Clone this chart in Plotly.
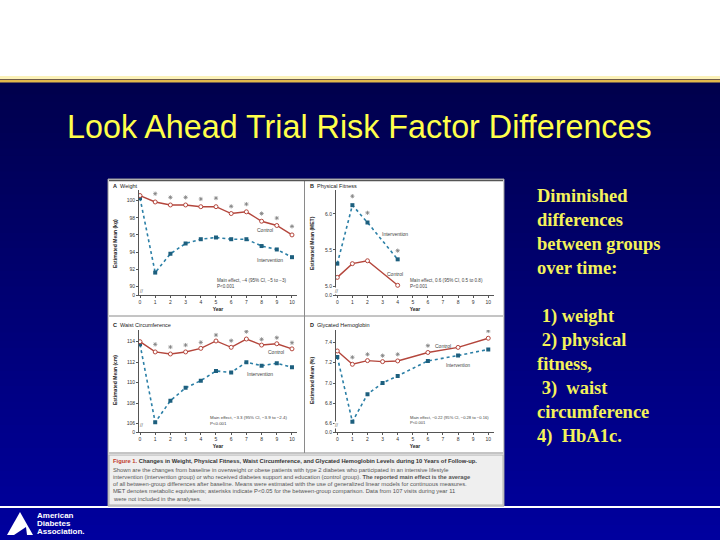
import plotly.graph_objects as go

# ---------------- data ----------------
years_11 = [0, 1, 2, 3, 4, 5, 6, 7, 8, 9, 10]
years_ast = [1, 2, 3, 4, 5, 6, 7, 8, 9, 10]

weight_control = [100.6, 99.85, 99.5, 99.5, 99.3, 99.3, 98.5, 98.7, 97.6, 97.1, 96.0]
weight_interv = [100.3, 91.6, 93.8, 95.0, 95.5, 95.7, 95.5, 95.5, 94.7, 94.3, 93.4]
weight_ast = [100.82, 100.39, 100.39, 100.2, 100.3, 99.34, 99.6, 98.5, 97.97, 97.0]

fit_years = [0, 1, 2, 4]
fit_control = [5.12, 5.31, 5.35, 5.01]
fit_interv = [5.31, 6.12, 5.88, 5.37]
fit_ast_years = [1, 2, 4]
fit_ast = [6.244, 6.014, 5.49]

waist_control = [114.0, 113.0, 112.8, 113.0, 113.35, 114.07, 113.45, 114.26, 113.67, 113.8, 113.3]
waist_interv = [113.74, 106.13, 108.24, 109.5, 110.2, 111.14, 111.0, 112.0, 111.66, 111.9, 111.5]
waist_ast = [113.74, 113.48, 113.67, 113.93, 114.65, 114.1, 114.98, 114.23, 114.39, 113.9]

a1c_years = [0, 1, 2, 3, 4, 6, 8, 10]
a1c_control = [7.315, 7.184, 7.22, 7.21, 7.217, 7.30, 7.35, 7.44]
a1c_interv = [7.256, 6.62, 6.89, 7.0, 7.07, 7.217, 7.27, 7.33]
a1c_ast_years = [1, 2, 3, 4, 6, 10]
a1c_ast = [7.253, 7.282, 7.269, 7.282, 7.367, 7.511]

x_ticks = list(range(0, 11))
weight_ticks = [88.98, 90, 92, 94, 96, 98, 100]
weight_ticklabels = ["0", "90", "92", "94", "96", "98", "100"]
fit_ticks = [4.876, 5.0, 5.5, 6.0]
fit_ticklabels = ["0.0", "5.0", "5.5", "6.0"]
waist_ticks = [105.16, 106, 108, 110, 112, 114]
waist_ticklabels = ["0", "106", "108", "110", "112", "114"]
a1c_ticks = [6.5155, 6.6, 6.8, 7.0, 7.2, 7.4]
a1c_ticklabels = ["0.0", "6.6", "6.8", "7.0", "7.2", "7.4"]

title_text = "Look Ahead Trial Risk Factor Differences"
side_lines = ["Diminished", "differences", "between groups", "over time:", "",
              "\u00a01) weight", "\u00a02) physical", "fitness,", "\u00a03)\u00a0\u00a0waist",
              "circumference", "4)\u00a0\u00a0HbA1c."]
caption_lines = [
    "Shown are the changes from baseline in overweight or obese patients with type 2 diabetes who participated in an intensive lifestyle",
    "intervention (intervention group) or who received diabetes support and education (control group). <b>The reported main effect is the average</b>",
    "of all between-group differences after baseline. Means were estimated with the use of generalized linear models for continuous measures.",
    "MET denotes metabolic equivalents; asterisks indicate P<0.05 for the between-group comparison. Data from 107 visits during year 11",
    "were not included in the analyses.",
]

# ---------------- helpers ----------------
W, H = 720, 540
def PX(x):
    return x / W
def PY(y):
    return 1 - y / H

CTRL = "#b4463c"
INTV = "#2b7fa6"
INTV_M = "#1d5f7e"
AX = "#555555"
TXT = "#333333"
FONT = "Liberation Sans, Arial, sans-serif"

fig = go.Figure()

panels = [
    ("x", "y", years_11, weight_control, weight_interv, years_ast, weight_ast),
    ("x2", "y2", fit_years, fit_control, fit_interv, fit_ast_years, fit_ast),
    ("x3", "y3", years_11, waist_control, waist_interv, years_ast, waist_ast),
    ("x4", "y4", a1c_years, a1c_control, a1c_interv, a1c_ast_years, a1c_ast),
]
for xa, ya, xs, c, iv, ax_, ay_ in panels:
    fig.add_trace(go.Scatter(x=xs, y=iv, xaxis=xa, yaxis=ya, mode="lines+markers",
                             line=dict(color=INTV, width=1.6, dash="dot"),
                             marker=dict(symbol="square", size=4, color=INTV_M),
                             showlegend=False, hoverinfo="skip"))
    fig.add_trace(go.Scatter(x=xs, y=c, xaxis=xa, yaxis=ya, mode="lines+markers",
                             line=dict(color=CTRL, width=1.4),
                             marker=dict(symbol="circle", size=4, color="white",
                                         line=dict(color=CTRL, width=1)),
                             showlegend=False, hoverinfo="skip"))
    fig.add_trace(go.Scatter(x=ax_, y=ay_, xaxis=xa, yaxis=ya, mode="markers",
                             marker=dict(symbol="asterisk-open", size=3.5, color="#808080",
                                         line=dict(color="#808080", width=0.8)),
                             showlegend=False, hoverinfo="skip"))

xdomL = [PX(139), PX(297)]
xdomR = [PX(336), PX(494)]
ydomT = [PY(295), PY(190)]
ydomB = [PY(432.3), PY(330)]

def xaxis(dom, rng, anchor):
    return dict(domain=dom, range=rng, anchor=anchor, tickvals=x_ticks,
                showline=True, linecolor=AX, linewidth=1, ticks="outside", ticklen=2,
                tickcolor=AX, tickfont=dict(size=5, color=TXT, family=FONT),
                title=dict(text="<b>Year</b>", standoff=3,
                           font=dict(size=5, color="#222222", family=FONT)),
                showgrid=False, zeroline=False, fixedrange=True, automargin=False)

def yaxis(dom, rng, anchor, tv, tt):
    return dict(domain=dom, range=rng, anchor=anchor, tickvals=tv, ticktext=tt,
                showline=True, linecolor=AX, linewidth=1, ticks="outside", ticklen=2,
                tickcolor=AX, tickfont=dict(size=5, color=TXT, family=FONT),
                showgrid=False, zeroline=False, fixedrange=True, automargin=False)

fig.update_layout(
    xaxis=xaxis(xdomL, [-0.066, 10.33], "y"),
    yaxis=yaxis(ydomT, [88.98, 101.25], "x", weight_ticks, weight_ticklabels),
    xaxis2=xaxis(xdomR, [-0.086, 10.38], "y2"),
    yaxis2=yaxis(ydomT, [4.876, 6.33], "x2", fit_ticks, fit_ticklabels),
    xaxis3=xaxis(xdomL, [-0.066, 10.33], "y3"),
    yaxis3=yaxis(ydomB, [105.16, 115.14], "x3", waist_ticks, waist_ticklabels),
    xaxis4=xaxis(xdomR, [-0.086, 10.38], "y4"),
    yaxis4=yaxis(ydomB, [6.5155, 7.521], "x4", a1c_ticks, a1c_ticklabels),
)

# ---------------- shapes (background decoration) ----------------
shapes = []
shapes.append(dict(type="rect", xref="paper", yref="paper", x0=0, x1=1, y0=PY(78), y1=1,
                   fillcolor="white", line=dict(width=0), layer="below"))
shapes.append(dict(type="rect", xref="paper", yref="paper", x0=0, x1=1, y0=PY(79), y1=PY(76),
                   fillcolor="#fbf1b8", line=dict(width=0), layer="below"))
n = 60
top, bot = 79.0, 540.0
c0 = (0, 0, 76)
c1 = (0, 0, 158)
for i in range(n):
    y0 = top + (bot - top) * i / n
    t = i / (n - 1)
    col = "rgb(%d,%d,%d)" % tuple(round(a + (b - a) * t) for a, b in zip(c0, c1))
    shapes.append(dict(type="rect", xref="paper", yref="paper", x0=-0.01, x1=1.01,
                       y0=-0.01, y1=PY(y0), fillcolor=col,
                       line=dict(width=0), layer="below"))
shapes.append(dict(type="rect", xref="paper", yref="paper", x0=0, x1=1, y0=PY(82.5), y1=PY(79.5),
                   fillcolor="#e2b84c", line=dict(width=0), layer="below"))
shapes.append(dict(type="rect", xref="paper", yref="paper", x0=0, x1=1, y0=PY(508), y1=PY(506),
                   fillcolor="white", line=dict(width=0), layer="below"))
shapes.append(dict(type="rect", xref="paper", yref="paper", x0=PX(108), x1=PX(504),
                   y0=PY(506), y1=PY(179), fillcolor="white",
                   line=dict(color="#9a9a9a", width=1), layer="below"))
shapes.append(dict(type="rect", xref="paper", yref="paper", x0=PX(109), x1=PX(503),
                   y0=PY(505), y1=PY(455), fillcolor="#efefef",
                   line=dict(color="#b0b0b0", width=1), layer="below"))
shapes.append(dict(type="line", xref="paper", yref="paper", x0=PX(304.5), x1=PX(304.5),
                   y0=PY(453), y1=PY(180), line=dict(color="#8a8a8a", width=1), layer="below"))
shapes.append(dict(type="line", xref="paper", yref="paper", x0=PX(109), x1=PX(503),
                   y0=PY(316), y1=PY(316), line=dict(color="#8a8a8a", width=1), layer="below"))
shapes.append(dict(type="line", xref="paper", yref="paper", x0=PX(109), x1=PX(503),
                   y0=PY(453), y1=PY(453), line=dict(color="#8a8a8a", width=1), layer="below"))
shapes.append(dict(type="line", xref="paper", yref="paper", x0=PX(109), x1=PX(503),
                   y0=PY(180.5), y1=PY(180.5), line=dict(color="#555555", width=1.5), layer="below"))
shapes.append(dict(type="path", xref="paper", yref="paper",
                   path="M %f,%f L %f,%f L %f,%f Z" % (PX(7), PY(535), PX(20), PY(512), PX(33), PY(535)),
                   fillcolor="white", line=dict(width=0)))
shapes.append(dict(type="path", xref="paper", yref="paper",
                   path="M %f,%f L %f,%f L %f,%f Z" % (PX(14), PY(535), PX(26), PY(527), PX(27), PY(535)),
                   fillcolor="#000098", line=dict(width=0)))
fig.update_layout(shapes=shapes)

# ---------------- annotations ----------------
ann = []
ann.append(dict(text=title_text, x=PX(359.5), y=PY(127), xref="paper", yref="paper",
                showarrow=False, xanchor="center", yanchor="middle",
                font=dict(family=FONT, size=32.3, color="#ffff4a")))
for i, line in enumerate(side_lines):
    if not line:
        continue
    ann.append(dict(text="<b>%s</b>" % line, x=PX(535), y=PY(196 + 24 * i), xref="paper", yref="paper",
                    showarrow=False, xanchor="left", yanchor="middle",
                    font=dict(family="Liberation Serif, Times New Roman, serif", size=18.5, color="#f4f25a")))

for i, w in enumerate(["American", "Diabetes", "Association."]):
    ann.append(dict(text="<b>%s</b>" % w, x=PX(35), y=PY(515 + 8 * i), xref="paper", yref="paper",
                    showarrow=False, xanchor="left", yanchor="middle",
                    font=dict(family=FONT, size=8, color="white")))

ptitles = [("A", "Weight", 111, 186), ("B", "Physical Fitness", 308, 186),
           ("C", "Waist Circumference", 111, 325), ("D", "Glycated Hemoglobin", 308, 325)]
for letter, name, x, y in ptitles:
    ann.append(dict(text="<b>%s</b>\u00a0\u00a0%s" % (letter, name), x=PX(x), y=PY(y),
                    xref="paper", yref="paper", showarrow=False, xanchor="left", yanchor="middle",
                    font=dict(family=FONT, size=5.5, color="#222222")))

ytitles = [("Estimated Mean (kg)", 115, 243), ("Estimated Mean (MET)", 312, 243),
           ("Estimated Mean (cm)", 115, 380), ("Estimated Mean (%)", 312, 380)]
for t, x, y in ytitles:
    ann.append(dict(text="<b>%s</b>" % t, x=PX(x), y=PY(y), xref="paper", yref="paper",
                    showarrow=False, textangle=-90, xanchor="center", yanchor="middle",
                    font=dict(family=FONT, size=5, color="#222222")))

for x, y in [(139, 291), (336, 291), (139, 428.5), (336, 428.5)]:
    ann.append(dict(text="//", x=PX(x), y=PY(y), xref="paper", yref="paper", showarrow=False,
                    font=dict(family=FONT, size=5, color="#555555"), bgcolor="white", borderpad=0))

lab = [
    ("x", "y", 8.2, 96.6, "Control", "center", 5),
    ("x", "y", 8.55, 93.1, "Intervention", "center", 5),
    ("x", "y", 4.93, 90.3, "Main effect, \u22124 (95% CI, \u22125 to \u22123)<br>P<0.001", "left", 4.6),
    ("x2", "y2", 3.82, 5.714, "Intervention", "center", 5),
    ("x2", "y2", 3.82, 5.17, "Control", "center", 5),
    ("x2", "y2", 4.7, 5.035, "Main effect, 0.6 (95% CI, 0.5 to 0.8)<br>P<0.001", "left", 4.6),
    ("x3", "y3", 8.95, 113.0, "Control", "center", 5),
    ("x3", "y3", 7.9, 110.85, "Intervention", "center", 5),
    ("x3", "y3", 4.47, 106.3, "Main effect, \u22123.3 (95% CI, \u22123.9 to \u22122.4)<br>P<0.001", "left", 4.4),
    ("x4", "y4", 7.0, 7.367, "Control", "center", 5),
    ("x4", "y4", 8.0, 7.177, "Intervention", "center", 4.6),
    ("x4", "y4", 4.7, 6.632, "Main effect, \u22120.22 (95% CI, \u22120.28 to \u22120.16)<br>P<0.001", "left", 4.1),
]
for xa, ya, x, y, t, anc, fs in lab:
    ann.append(dict(text=t, x=x, y=y, xref=xa, yref=ya, showarrow=False, xanchor=anc,
                    yanchor="middle", align="left",
                    font=dict(family=FONT, size=fs, color="#444444")))

ann.append(dict(text="<span style='color:#c0392b'><b>Figure 1.</b></span> <b>Changes in Weight, Physical Fitness, Waist Circumference, and Glycated Hemoglobin Levels during 10 Years of Follow-up.</b>",
                x=PX(111), y=PY(461), xref="paper", yref="paper", showarrow=False,
                xanchor="left", yanchor="middle", font=dict(family=FONT, size=5.8, color="#333333")))
for i, line in enumerate(caption_lines):
    ann.append(dict(text=line, x=PX(111), y=PY(469.5 + 7.3 * i), xref="paper", yref="paper",
                    showarrow=False, xanchor="left", yanchor="middle",
                    font=dict(family=FONT, size=5.8, color="#555555")))

fig.update_layout(annotations=ann, width=W, height=H, margin=dict(l=0, r=0, t=0, b=0),
                  paper_bgcolor="white", plot_bgcolor="rgba(0,0,0,0)", showlegend=False)

fig.write_html("out.html")
